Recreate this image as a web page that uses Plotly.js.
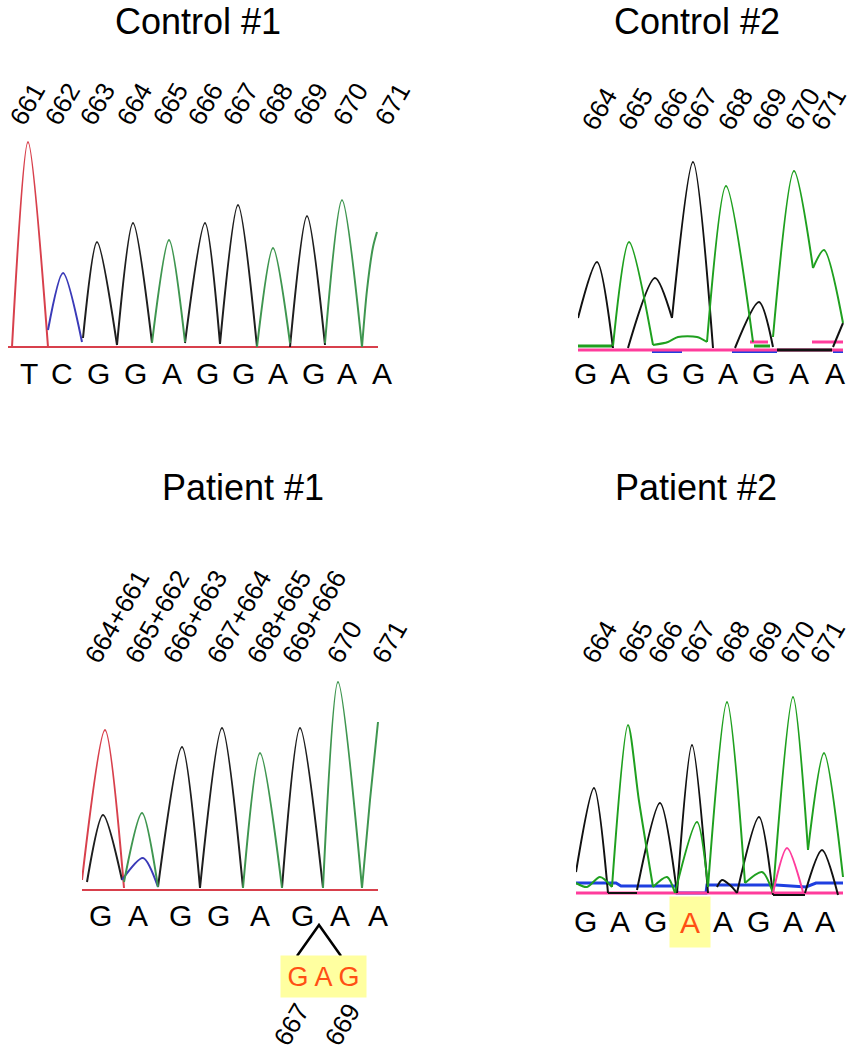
<!DOCTYPE html>
<html>
<head>
<meta charset="utf-8">
<script src="https://cdn.plot.ly/plotly-3.0.1.min.js"></script>
<style>html,body{margin:0;padding:0;background:#fff;}#chart{width:853px;height:1050px;}</style>
</head>
<body>
<div id="chart"></div>
<script>
// ---------- DATA (scan positions and signal heights) ----------
const titles = ['Control #1', 'Control #2', 'Patient #1', 'Patient #2'];

// Control #1
const c1Ticks = ['661','662','663','664','665','666','667','668','669','670','671'];
const c1TickPos = [5,40,75,112,148,183,218,253,288,328,370];
const c1Bases = ['T','C','G','G','A','G','G','A','G','A','A'];
const c1BasePos = [21,54,90,127,164,199,235,270,305,339,374];
const c1RedX = [4,20,40];
const c1RedY = [0,205,0];
const c1BlueX = [40,55,74];
const c1BlueY = [17,74,5];
const c1BlackX = [75,89,109,null,109,125,144,null,177,197,212,null,212,230,249,null,282,299,317];
const c1BlackY = [9,105,2,null,2,124,4,null,4,124,3,null,3,142,0,null,0,131,2];
const c1GreenX = [144,161,177,null,249,265,282,null,317,334,354,null,354,359,365,369];
const c1GreenY = [4,107,5,null,0,99,4,null,4,147,0,null,0,57,100,115];
const c1BaseX = [0,370];
const c1BaseY = [0,0];

// Control #2
const c2Ticks = ['664','665','666','667','668','669','670','671'];
const c2TickPos = [7,43,78,107,143,177,210,236];
const c2Bases = ['G','A','G','G','A','G','A','A'];
const c2BasePos = [7,42,79,115,150,185,221,257];
const c2BlackX = [0,19,35,null,50,77,94,null,94,115,135,null,157,181,195,null,255,265];
const c2BlackY = [32,88,2,null,2,72,32,null,32,188,2,null,2,48,3,null,3,27];
const c2GreenX = [35,51,75,null,75,90,100,119,129,null,129,148,175,null,195,216,235,null,235,246,265];
const c2GreenY = [4,108,5,null,5,8,13,13,8,null,8,164,8,null,13,179,82,null,82,100,27];
const c2GreenFlatX = [0,34,null,176,192];
const c2GreenFlatY = [4,4,null,4,4];
const c2BlackFlatX = [199,254];
const c2BlackFlatY = [0,0];
const c2PinkX = [0,265,null,172,190,null,234,265];
const c2PinkY = [0,0,null,8,8,null,8,8];
const c2BlueX = [74,104,null,154,199,null,255,265];
const c2BlueY = [-2,-2,null,-2,-2,null,-2,-2];

// Patient #1
const p1Ticks = ['664+661','665+662','666+663','667+664','668+665','669+666','670','671'];
const p1TickPos = [6,46,84,128,168,203,248,293];
const p1Bases = ['G','A','G','G','A','G','A','A'];
const p1BasePos = [18,56,98,136,178,220,258,296];
const p1RedX = [0,23,42];
const p1RedY = [10,160,2];
const p1BlackX = [5,21,40,null,76,100,118,null,118,140,161,null,200,218,241];
const p1BlackY = [8,75,10,null,3,143,2,null,2,162,2,null,2,162,2];
const p1GreenX = [42,60,76,null,161,178,200,null,241,256,280,null,280,288,296];
const p1GreenY = [8,77,3,null,2,137,2,null,2,208,2,null,2,90,168];
const p1BlueX = [40,61,76];
const p1BlueY = [10,32,3];
const p1BaseX = [0,296];
const p1BaseY = [0,0];
const p1Insert = 'G A G';
const p1InsertPos = 241;
const p1InsTicks = ['667','669'];
const p1InsPos = [209,260];
const p1CaretX = [215,237,259];

// Patient #2
const p2Ticks = ['664','665','666','667','668','669','670','671'];
const p2TickPos = [9,45,75,107,142,175,207,237];
const p2Bases = ['G','A','G','A','A','G','A','A'];
const p2BasePos = [9,44,79,114,147,182,217,249];
const p2Mutated = 3;
const p2BlackX = [0,18,32,null,61,84,101,null,101,116,132,null,141,146,154,161,null,161,183,197,null,229,246,262];
const p2BlackY = [21,105,0,null,3,90,0,null,0,148,0,null,6,13,8,0,null,0,76,-2,null,0,43,-2];
const p2BlackFlatX = [32,61,null,197,229];
const p2BlackFlatY = [0,0,null,-2,-2];
const p2GreenX = [0,11,24,36,null,36,52,63,77,null,77,91,99,null,99,121,132,null,132,151,169,null,169,186,197,null,197,217,232,null,232,248,267];
const p2GreenY = [10,6,16,6,null,6,168,92,6,null,6,16,0,null,0,71,6,null,6,191,10,null,10,21,0,null,0,196,43,null,43,140,16];
const p2PinkPeakX = [197,211,227];
const p2PinkPeakY = [0,45,1];
const p2PinkX = [0,267];
const p2PinkY = [0,0];
const p2BlueX = [0,40,45,100,101,130,131,200,230,240,267];
const p2BlueY = [10,10,7,7,0,0,8,8,6,10,10];

// ---------- STYLE ----------
const FONT = 'Liberation Sans, Arial, sans-serif';
const colA = {red:'#d8404c', blue:'#3a3ab8', black:'#1e1e1e', green:'#3f9650'};
const colB = {black:'#111111', green:'#1fa01f', pink:'#ff3c9c', blue:'#1f3fe0'};
const W = 853, H = 1050;
const fx = (a,b) => [a/W, b/W];
const fy = (top,bottom) => [1-bottom/H, 1-top/H];
const py = p => 1 - p/H;

function tr(x, y, color, ax, width, spline) {
  return {type:'scatter', mode:'lines', x:x, y:y, xaxis:'x'+ax, yaxis:'y'+ax,
    line:{color:color, width:width||2, shape: spline===false ? 'linear' : 'spline', smoothing:0.8},
    connectgaps:false, hoverinfo:'skip'};
}

const data = [
  // Control #1
  tr(c1BaseX, c1BaseY, colA.red, '', 2, false),
  tr(c1RedX, c1RedY, colA.red, ''),
  tr(c1BlueX, c1BlueY, colA.blue, ''),
  tr(c1BlackX, c1BlackY, colA.black, ''),
  tr(c1GreenX, c1GreenY, colA.green, ''),
  // Control #2
  tr(c2BlueX, c2BlueY, colB.blue, '2', 3, false),
  tr(c2PinkX, c2PinkY, colB.pink, '2', 3, false),
  tr(c2BlackFlatX, c2BlackFlatY, colB.black, '2', 3, false),
  tr(c2GreenFlatX, c2GreenFlatY, colB.green, '2', 3, false),
  tr(c2BlackX, c2BlackY, colB.black, '2'),
  tr(c2GreenX, c2GreenY, colB.green, '2'),
  // Patient #1
  tr(p1BaseX, p1BaseY, colA.red, '3', 2, false),
  tr(p1RedX, p1RedY, colA.red, '3'),
  tr(p1BlackX, p1BlackY, colA.black, '3'),
  tr(p1BlueX, p1BlueY, colA.blue, '3'),
  tr(p1GreenX, p1GreenY, colA.green, '3'),
  // Patient #2
  tr(p2BlueX, p2BlueY, colB.blue, '4', 3, false),
  tr(p2PinkX, p2PinkY, colB.pink, '4', 3, false),
  tr(p2BlackFlatX, p2BlackFlatY, colB.black, '4', 2, false),
  tr(p2BlackX, p2BlackY, colB.black, '4'),
  tr(p2GreenX, p2GreenY, colB.green, '4'),
  tr(p2PinkPeakX, p2PinkPeakY, colB.pink, '4')
];

function xa(dom, range, ticks, pos, anchor) {
  return {domain:dom, range:range, side:'top', anchor:anchor, tickmode:'array',
    tickvals:pos, ticktext:ticks, tickangle:-60, ticks:'', showgrid:false, zeroline:false,
    showline:false, ticklabelstandoff:-10, ticklabeloverflow:'allow',
    tickfont:{family:FONT, size:26, color:'#000'}, fixedrange:true};
}
function ya(dom, range) {
  return {domain:dom, range:range, visible:false, fixedrange:true};
}

const annotations = [];
const titlePos = [[198,21],[697,21],[243,488],[696,488]];
titles.forEach((t,i) => annotations.push({text:t, xref:'paper', yref:'paper',
  x:titlePos[i][0]/W, y:py(titlePos[i][1]), showarrow:false, xanchor:'center', yanchor:'middle',
  borderpad:0, font:{family:FONT, size:36, color:'#000'}}));

function bases(list, pos, ax, ypx, hi) {
  list.forEach((b,i) => {
    const a = {text:b, xref:'x'+ax, yref:'paper', x:pos[i], y:py(ypx), showarrow:false,
      xanchor:'center', yanchor:'middle', font:{family:FONT, size:30, color:'#000'}};
    if (hi === i) { a.font.color = '#ff5014'; a.bgcolor = '#ffffa0'; a.width = 38; a.height = 48; }
    annotations.push(a);
  });
}
bases(c1Bases, c1BasePos, '', 373);
bases(c2Bases, c2BasePos, '2', 373);
bases(p1Bases, p1BasePos, '3', 915);
bases(p2Bases, p2BasePos, '4', 922, p2Mutated);

annotations.push({text:p1Insert, xref:'x3', yref:'paper', x:p1InsertPos, y:py(976), showarrow:false,
  xanchor:'center', yanchor:'middle', bgcolor:'#ffffa0', width:83, height:39,
  font:{family:FONT, size:27, color:'#ff5014'}});
p1InsTicks.forEach((t,i) => annotations.push({text:t, xref:'x3', yref:'paper', x:p1InsPos[i], y:py(1025),
  showarrow:false, xanchor:'center', yanchor:'middle', textangle:-60, borderpad:0,
  font:{family:FONT, size:26, color:'#000'}}));

const shapes = [{type:'path', xref:'x3', yref:'paper',
  path:`M ${p1CaretX[0]} ${py(956)} L ${p1CaretX[1]} ${py(925)} L ${p1CaretX[2]} ${py(956)}`,
  line:{color:'#000', width:2.5}}];

const layout = {
  width:W, height:H, margin:{l:0,r:0,t:0,b:0}, paper_bgcolor:'#fff', plot_bgcolor:'rgba(0,0,0,0)',
  showlegend:false, hovermode:false,
  xaxis: xa(fx(8,400), [0,392], c1Ticks, c1TickPos, 'y'),
  yaxis: ya(fy(130,350), [-3,217]),
  xaxis2: xa(fx(578,853), [0,275], c2Ticks, c2TickPos, 'y2'),
  yaxis2: ya(fy(135,353), [-3,215]),
  xaxis3: xa(fx(82,400), [0,318], p1Ticks, p1TickPos, 'y3'),
  yaxis3: ya(fy(668,893), [-3,222]),
  xaxis4: xa(fx(576,853), [0,277], p2Ticks, p2TickPos, 'y4'),
  yaxis4: ya(fy(668,896), [-3,225]),
  annotations: annotations, shapes: shapes
};

Plotly.newPlot('chart', data, layout, {displayModeBar:false, staticPlot:true});
</script>
</body>
</html>
